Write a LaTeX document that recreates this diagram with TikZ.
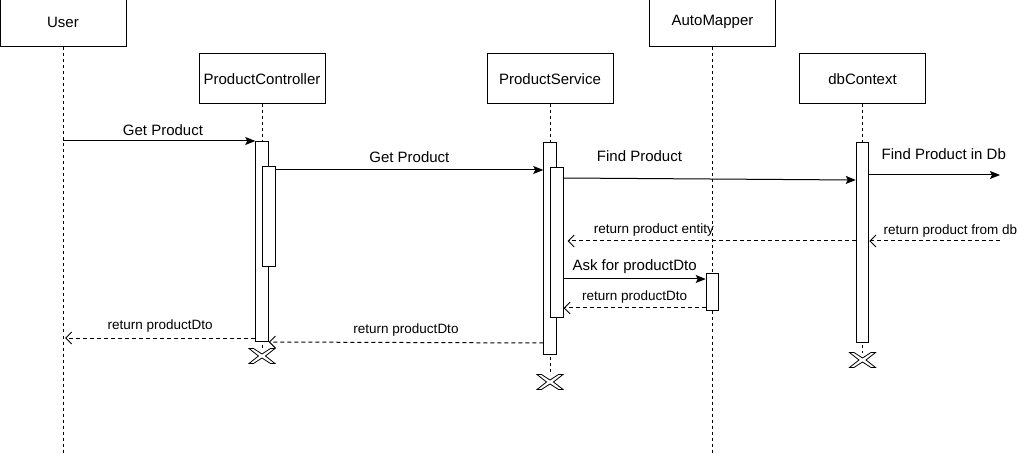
\documentclass[tikz,border=0pt]{standalone}
\usepackage{fontspec}
\setmainfont{Liberation Sans}
\usepackage{tikz}
\usetikzlibrary{arrows.meta,positioning}
\tikzset{
	participant/.style = {
		draw, rectangle, fill=white, minimum width=126pt, minimum height=50pt, inner sep=0pt, font=\fontsize{15}{18}\selectfont
	}
}
\tikzset{
	activation/.style = {
		draw, rectangle, fill=white, minimum width=12.5pt, inner sep=0pt, anchor=north
	}
}
\tikzset{
	lifeline/.style = {
		dash pattern=on 3pt off 3pt
	}
}
\tikzset{
	call/.style = {
		-{Stealth[length=10pt,width=8pt,inset=2pt]}
	}
}
\tikzset{
	reply/.style = {
		dash pattern=on 4pt off 3pt, -{Straight Barb[length=6pt,width=12pt]}
	}
}
\tikzset{
	biglabel/.style = {
		font=\fontsize{15}{18}\selectfont, inner sep=1pt
	}
}
\tikzset{
	smalllabel/.style = {
		font=\fontsize{13.5}{16}\selectfont, inner sep=1pt
	}
}
\tikzset{
	destroy/.pic = {
		\draw[fill=white, line width=0.8pt] (-13,-7.5) -- (-8.5,-7.5) -- (0,-2) -- (8.5,-7.5) -- (13,-7.5) -- (3.5,0) -- (13,7.5) -- (8.5,7.5) -- (0,2) -- (-8.5,7.5) -- (-13,7.5) -- (-3.5,0) -- cycle;
	}
}

\begin{document}
\begin{tikzpicture}[x=1pt, y=-1pt, line width=1pt]
	\useasboundingbox (0,0) rectangle (1020,454);
	\node[participant](user) at (63,22){User};
	\node[participant](controller) at (262,79){ProductController};
	\node[participant](service) at (550,79){ProductService};
	\node[participant](mapper) at (712.5,22){AutoMapper};
	\node[participant](db) at (862.5,79){dbContext};
	\coordinate (userEnd) at (user |- 0,454);
	\coordinate (mapperEnd) at (mapper |- 0,454);
	\coordinate (ctrlEnd) at (controller |- 0,356);
	\coordinate (svcEnd) at (service |- 0,382);
	\coordinate (dbEnd) at (db |- 0,360);
	\coordinate (dbOut) at (1000,175);
	\coordinate (dbBack) at (1000,241);
	\draw[lifeline] (user) -- (userEnd);
	\draw[lifeline] (mapper) -- (mapperEnd);
	\draw[lifeline] (controller) -- ([yshift=7.5pt]ctrlEnd);
	\draw[lifeline] (service) -- ([yshift=7.5pt]svcEnd);
	\draw[lifeline] (db) -- ([yshift=7.5pt]dbEnd);
	\node[activation, minimum height=200pt](ctrlAct) at (controller |- 0,141){};
	\node[activation, minimum height=100pt](ctrlIn) at (ctrlAct.east |- 0,166){};
	\node[activation, minimum height=212pt](svcAct) at (service |- 0,142){};
	\node[activation, minimum height=150pt](svcIn) at (svcAct.east |- 0,167){};
	\node[activation, minimum height=37pt](mapAct) at (mapper |- 0,273){};
	\node[activation, minimum height=200pt](dbAct) at (db |- 0,142){};
	\pic at (ctrlEnd) {destroy};
	\pic at (svcEnd) {destroy};
	\pic at (dbEnd) {destroy};
	\draw[call] (user |- ctrlAct.north) -- (ctrlAct.north west) node[pos=0.52, above=4pt, biglabel]{Get Product};
	\draw[call] (ctrlIn.east |- 0,170) -- (svcAct.west |- 0,170) node[midway, above=6pt, biglabel]{Get Product};
	\draw[call] (svcIn.east |- 0,178) -- (dbAct.west |- 0,180) node[pos=0.26, above=15pt, biglabel]{Find Product};
	\draw[call] (dbAct.east |- 0,175) -- (dbOut) node[pos=0.57, above=14pt, biglabel]{Find Product in Db};
	\draw[reply] (dbBack) -- (dbAct.east |- 0,241) node[pos=0.38, above=2pt, smalllabel]{return product from db};
	\draw[reply] (dbAct.west |- 0,241) -- ([xshift=4pt]svcIn.east |- 0,241) node[pos=0.7, above=3pt, smalllabel]{return product entity};
	\draw[call] (svcIn.east |- 0,279) -- (mapAct.west |- 0,279) node[midway, above=4pt, biglabel]{Ask for productDto};
	\draw[reply] (mapAct.west |- 0,308) -- (svcIn.east |- 0,308) node[midway, above=3pt, smalllabel]{return productDto};
	\draw[reply] (svcAct.west |- 0,343) -- (ctrlAct.east |- 0,342) node[midway, above=5pt, smalllabel]{return productDto};
	\draw[reply] (ctrlAct.west |- 0,338) -- ([xshift=2pt]user |- 0,338) node[midway, above=4pt, smalllabel]{return productDto};
\end{tikzpicture}
\end{document}
